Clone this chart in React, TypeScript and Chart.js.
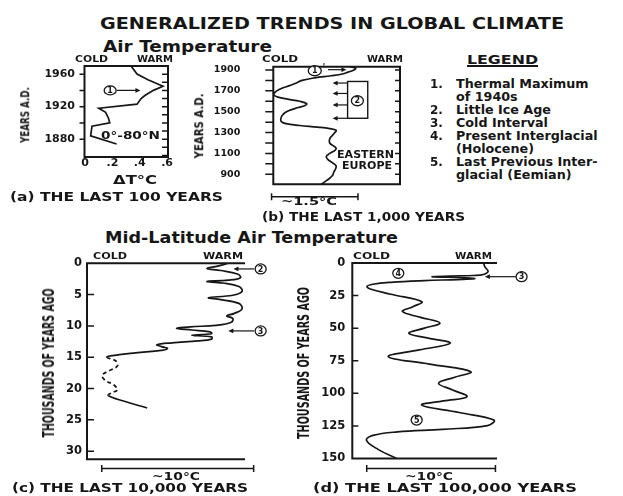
import React, { useEffect, useRef } from 'react';
import { Chart, registerables } from 'chart.js';

Chart.register(...registerables);

const FONT = '"DejaVu Sans", "Liberation Sans", sans-serif';
const INK = '#161616';

// ---------- (a) the last 100 years ----------
const yearsA = [1969, 1960, 1953, 1945, 1940, 1934, 1930, 1923, 1918, 1913, 1906, 1900, 1896, 1884, 1874];
const dTempA = [0.34, 0.38, 0.46, 0.57, 0.50, 0.44, 0.41, 0.38, 0.10, 0.15, 0.17, 0.18, 0.05, 0.04, 0.23];
const yLabelsA = [1880, 1920, 1960];
const xTickValuesA = [0, 0.2, 0.4, 0.6];
const xTickTextA = ['0', '.2', '.4', '.6'];
const leftTicksA = [1880, 1900, 1920, 1940, 1960];
const rightTicksA = [1860, 1870, 1880, 1890, 1900, 1910, 1920, 1930, 1940, 1950, 1960];

// ---------- (b) the last 1,000 years ----------
const yearsB = [1932, 1918, 1900, 1880, 1862, 1845, 1825, 1800, 1775, 1750, 1725, 1700, 1680, 1660, 1640,
  1620, 1600, 1578, 1560, 1540, 1515, 1490, 1460, 1430, 1405, 1385, 1368, 1352, 1338, 1322,
  1300, 1270, 1240, 1200, 1170, 1150, 1130, 1100, 1070, 1040, 1010, 980, 950, 920, 890, 862, 835, 814, 804];
const tempB = [1.33, 1.43, 1.40, 1.30, 1.20, 1.00, 0.72, 0.50, 0.40, 0.28, 0.15, 0.06, 0.02, 0.01, 0.08,
  0.25, 0.46, 0.58, 0.55, 0.43, 0.29, 0.20, 0.15, 0.13, 0.14, 0.22, 0.46, 0.77, 0.98, 1.09,
  1.07, 1.02, 0.98, 0.98, 1.05, 1.09, 1.07, 0.98, 0.92, 0.95, 1.03, 1.09, 1.08, 1.05, 1.03, 0.98, 0.91, 0.86, 0.83];
const yLabelsB = [900, 1100, 1300, 1500, 1700, 1900];
const ticksB = [900, 1000, 1100, 1200, 1300, 1400, 1500, 1600, 1700, 1800, 1900];
const littleIceAgeArrowsB = [1775, 1675, 1565, 1437];

// ---------- (c) mid-latitude, 0-31 ka ----------
const kaC = [0, 0.45, 0.85, 1.15, 1.7, 2.3, 2.7, 2.9, 3.15, 3.7, 4.5, 5.1, 5.5, 5.8, 6.4, 7.3, 8.0, 8.4, 8.8, 9.4,
  9.9, 10.15, 10.4, 10.65, 10.95, 11.25, 11.5, 11.75, 12.1, 12.4, 12.7, 13.0, 13.3, 13.6, 13.9, 14.3, 14.7,
  15.0, 15.6, 16.4, 17.1, 17.9, 18.7, 19.4, 20.2, 20.7, 21.1, 22.0, 23.1];
const tempC = [9.3, 8.6, 7.9, 8.8, 9.9, 10.1, 9.3, 7.9, 8.9, 10.0, 10.2, 9.6, 8.0, 8.8, 10.0, 10.2, 9.7, 9.2, 9.6, 9.5,
  8.5, 6.8, 5.9, 6.9, 8.1, 8.2, 6.9, 8.2, 8.2, 7.3, 5.6, 4.6, 4.9, 5.3, 4.9, 3.2, 1.8,
  1.3, 1.9, 2.0, 1.5, 1.0, 1.2, 1.75, 2.0, 1.6, 1.4, 2.4, 3.96];
const dashFromC = 15.0;
const dashToC = 21.1;
const yLabelsC = [0, 5, 10, 15, 20, 25, 30];
const ticksC = [5, 10, 15, 20, 25, 30];

// ---------- (d) mid-latitude, 0-150 ka ----------
const kaD = [0, 3, 6.5, 8.8, 9.6, 10.05, 10.5, 10.95, 11.5, 12.1, 12.7, 13.5, 14.8, 16.3, 18.0, 20.0, 24.0, 29.7,
  33.5, 37.3, 41.7, 46.0, 50.0, 54.0, 57.8, 61.6, 66.7, 71.9, 77.6, 83.4, 87.8, 92.3, 97.4, 102.6, 105.8,
  109.0, 114.7, 120.5, 124.8, 127.6, 129.6, 132.3, 136.0, 143.0, 150.0];
const tempD = [10.2, 10.3, 10.55, 10.2, 9.4, 7.6, 6.2, 7.4, 9.2, 9.5, 8.2, 5.6, 3.0, 1.6, 1.15, 1.4, 3.0, 5.4,
  4.7, 3.9, 5.3, 6.8, 5.6, 4.4, 6.0, 7.6, 5.2, 2.8, 6.0, 9.2, 7.9, 6.7, 7.8, 8.9, 7.1,
  5.4, 8.3, 11.0, 10.5, 7.0, 3.5, 1.6, 1.1, 2.0, 3.44];
const yLabelsD = [0, 25, 50, 75, 100, 125, 150];
const ticksD = [25, 50, 75, 100, 125];

const toPoints = (xs: number[], ys: number[]) => xs.map((x, i) => ({ x, y: ys[i] }));

// ---------- drawing plugin for frames, tick marks, arrows and circled numbers ----------
const decorPlugin: any = {
  id: 'decor',
  afterDatasetsDraw(chart: any, _args: any, o: any) {
    if (!o) return;
    const { ctx, chartArea: a } = chart;
    const X = (v: number) => chart.scales.x.getPixelForValue(v);
    const Y = (v: number) => chart.scales.y.getPixelForValue(v);
    ctx.save();
    ctx.strokeStyle = INK;
    ctx.fillStyle = INK;
    ctx.lineWidth = 2;
    ctx.beginPath();
    if (o.frame === 'box') {
      ctx.rect(a.left, a.top, a.right - a.left, a.bottom - a.top);
    } else if (o.frame === 'open') {
      ctx.moveTo(a.right, a.top);
      ctx.lineTo(a.left, a.top);
      ctx.lineTo(a.left, a.bottom);
      ctx.lineTo(a.right, a.bottom);
    }
    ctx.stroke();
    ctx.lineWidth = 1.5;
    for (const t of o.ticks || []) {
      const x0 = t.side === 'left' ? a.left : a.right;
      const sgn = (t.side === 'left' ? 1 : -1) * (t.dir === 'in' ? 1 : -1);
      ctx.beginPath();
      for (const v of t.values) {
        const y = Y(v);
        ctx.moveTo(x0, y);
        ctx.lineTo(x0 + sgn * t.len, y);
      }
      ctx.stroke();
    }
    ctx.lineWidth = 1.4;
    for (const r of o.rects || []) {
      const x1 = X(r.x1), x2 = X(r.x2), y1 = Y(r.y1), y2 = Y(r.y2);
      ctx.strokeRect(Math.min(x1, x2), Math.min(y1, y2), Math.abs(x2 - x1), Math.abs(y2 - y1));
    }
    for (const ar of o.arrows || []) {
      const x1 = X(ar.x1), y1 = Y(ar.y1), x2 = X(ar.x2), y2 = Y(ar.y2);
      const ang = Math.atan2(y2 - y1, x2 - x1);
      const L = 5, H = 2.4;
      ctx.lineWidth = 1.2;
      ctx.beginPath();
      ctx.moveTo(x1, y1);
      ctx.lineTo(x2 - Math.cos(ang) * L * 0.6, y2 - Math.sin(ang) * L * 0.6);
      ctx.stroke();
      ctx.beginPath();
      ctx.moveTo(x2, y2);
      ctx.lineTo(x2 - Math.cos(ang) * L - Math.sin(ang) * H, y2 - Math.sin(ang) * L + Math.cos(ang) * H);
      ctx.lineTo(x2 - Math.cos(ang) * L + Math.sin(ang) * H, y2 - Math.sin(ang) * L - Math.cos(ang) * H);
      ctx.closePath();
      ctx.fill();
    }
    for (const c of o.circles || []) {
      const cx = X(c.x), cy = Y(c.y);
      ctx.beginPath();
      ctx.ellipse(cx, cy, c.rx || 5.5, c.ry || 5, 0, 0, Math.PI * 2);
      ctx.fillStyle = '#fff';
      ctx.fill();
      ctx.lineWidth = 1.3;
      ctx.stroke();
      ctx.fillStyle = INK;
      ctx.font = `bold 8px ${FONT}`;
      ctx.textAlign = 'center';
      ctx.textBaseline = 'middle';
      ctx.fillText(c.label, cx, cy + 0.5);
      if (c.prime) {
        ctx.font = `bold 9px ${FONT}`;
        ctx.fillText("'", cx + (c.rx || 5.5) + 2.5, cy - 3);
      }
    }
    if (o.bar) {
      const y = a.bottom + o.bar.dy;
      const x1 = X(o.bar.x1), x2 = X(o.bar.x2);
      ctx.lineWidth = 1.5;
      ctx.beginPath();
      ctx.moveTo(x1, y);
      ctx.lineTo(x2, y);
      ctx.moveTo(x1, y - 3.5);
      ctx.lineTo(x1, y + 3.5);
      ctx.moveTo(x2, y - 3.5);
      ctx.lineTo(x2, y + 3.5);
      ctx.stroke();
    }
    ctx.restore();
  },
};

type Rect = { left: number; top: number; width: number; height: number };
type Area = { left: number; top: number; right: number; bottom: number };

interface PanelDef {
  canvas: Rect;
  area: Area;
  x: { min: number; max: number };
  y: { min: number; max: number; reverse: boolean };
  yLabels: number[];
  yFont: number;
  yPad: number;
  xAxisH: number;
  xTicks?: number[];
  xTickText?: string[];
  points: { x: number; y: number }[];
  tension: number;
  segment?: any;
  decor: any;
}

const PANELS: PanelDef[] = [
  {
    canvas: { left: 0, top: 56, width: 200, height: 120 },
    area: { left: 84.5, top: 66, right: 168, bottom: 157 },
    x: { min: -0.005, max: 0.607 },
    y: { min: 1858, max: 1970, reverse: false },
    yLabels: yLabelsA,
    yFont: 11,
    yPad: 9.5,
    xAxisH: 13,
    xTicks: xTickValuesA,
    xTickText: xTickTextA,
    points: toPoints(dTempA, yearsA),
    tension: 0,
    decor: {
      frame: 'box',
      ticks: [
        { side: 'left', dir: 'out', len: 5, values: leftTicksA },
        { side: 'right', dir: 'in', len: 6, values: rightTicksA },
      ],
      circles: [{ x: 0.183, y: 1940, label: '1', rx: 6, ry: 4.5 }],
      arrows: [{ x1: 0.232, y1: 1940, x2: 0.405, y2: 1940 }],
    },
  },
  {
    canvas: { left: 190, top: 56, width: 240, height: 150 },
    area: { left: 273.3, top: 66.7, right: 400, bottom: 184.3 },
    x: { min: 0, max: 2.2 },
    y: { min: 804, max: 1931.6, reverse: false },
    yLabels: yLabelsB,
    yFont: 9.5,
    yPad: 33,
    xAxisH: 0,
    points: toPoints(tempB, yearsB),
    tension: 0.4,
    decor: {
      frame: 'box',
      ticks: [
        { side: 'left', dir: 'out', len: 8, values: ticksB },
        { side: 'right', dir: 'in', len: 5, values: ticksB },
      ],
      rects: [{ x1: 1.29, y1: 1790, x2: 1.64, y2: 1437 }],
      arrows: [
        { x1: 0.95, y1: 1903, x2: 1.27, y2: 1903 },
        ...littleIceAgeArrowsB.map((yr) => ({ x1: 1.29, y1: yr, x2: 1.03, y2: yr })),
      ],
      circles: [
        { x: 0.72, y: 1893, label: '1', rx: 6.5, ry: 5, prime: true },
        { x: 1.46, y: 1605, label: '2', rx: 6, ry: 5 },
      ],
      bar: { x1: -0.03, x2: 1.47, dy: 12.4 },
    },
  },
  {
    canvas: { left: 50, top: 250, width: 230, height: 235 },
    area: { left: 87, top: 263.3, right: 245, bottom: 459.3 },
    x: { min: 0, max: 10.4 },
    y: { min: 0, max: 31.3, reverse: true },
    yLabels: yLabelsC,
    yFont: 11.5,
    yPad: 5,
    xAxisH: 0,
    points: toPoints(tempC, kaC),
    tension: 0.4,
    segment: {
      borderDash: (ctx: any) =>
        ctx.p0.parsed.y >= dashFromC - 1e-6 && ctx.p1.parsed.y <= dashToC + 1e-6 ? [4, 3] : undefined,
    },
    decor: {
      frame: 'open',
      ticks: [{ side: 'left', dir: 'in', len: 7, values: ticksC }],
      arrows: [
        { x1: 11.0, y1: 0.9, x2: 9.64, y2: 0.9 },
        { x1: 11.0, y1: 10.8, x2: 9.3, y2: 10.8 },
      ],
      circles: [
        { x: 11.43, y: 0.9, label: '2' },
        { x: 11.43, y: 10.8, label: '3' },
      ],
      bar: { x1: 0.97, x2: 10.97, dy: 9.2 },
    },
  },
  {
    canvas: { left: 310, top: 250, width: 313, height: 235 },
    area: { left: 352.3, top: 263, right: 497, bottom: 458.5 },
    x: { min: 0, max: 11.24 },
    y: { min: 0, max: 150, reverse: true },
    yLabels: yLabelsD,
    yFont: 11.5,
    yPad: 7,
    xAxisH: 0,
    points: toPoints(tempD, kaD),
    tension: 0.4,
    decor: {
      frame: 'open',
      ticks: [{ side: 'left', dir: 'in', len: 6, values: ticksD }],
      arrows: [{ x1: 12.7, y1: 10.5, x2: 10.3, y2: 10.5 }],
      circles: [
        { x: 13.15, y: 10.5, label: '3' },
        { x: 3.57, y: 7.9, label: '4' },
        { x: 5.0, y: 120.5, label: '5' },
      ],
      bar: { x1: 1.12, x2: 11.12, dy: 10 },
    },
  },
];

function buildConfig(p: PanelDef): any {
  const c = p.canvas;
  const a = p.area;
  const hasX = !!p.xTicks;
  return {
    type: 'line',
    data: {
      datasets: [
        {
          data: p.points,
          borderColor: INK,
          borderWidth: 1.7,
          pointRadius: 0,
          tension: p.tension,
          fill: false,
          segment: p.segment,
        },
      ],
    },
    options: {
      responsive: false,
      animation: false,
      devicePixelRatio: 1,
      events: [],
      layout: {
        padding: {
          left: 0,
          top: a.top - c.top,
          right: c.left + c.width - a.right,
          bottom: c.top + c.height - a.bottom - p.xAxisH,
        },
      },
      plugins: { legend: { display: false }, tooltip: { enabled: false }, decor: p.decor },
      scales: {
        x: {
          type: 'linear',
          position: 'bottom',
          min: p.x.min,
          max: p.x.max,
          display: hasX,
          grid: { display: false, drawTicks: false },
          border: { display: false },
          ticks: {
            padding: 0,
            color: INK,
            font: { family: FONT, size: 11, weight: 'bold' },
            autoSkip: false,
            maxRotation: 0,
            callback: (_v: any, i: number) => (p.xTickText ? p.xTickText[i] : ''),
          },
          afterBuildTicks: (s: any) => {
            if (p.xTicks) s.ticks = p.xTicks.map((v) => ({ value: v }));
          },
          afterFit: (s: any) => {
            s.height = p.xAxisH;
            s.paddingLeft = 0;
            s.paddingRight = 0;
          },
        },
        y: {
          type: 'linear',
          position: 'left',
          min: p.y.min,
          max: p.y.max,
          reverse: p.y.reverse,
          grid: { display: false, drawTicks: false },
          border: { display: false },
          ticks: {
            padding: p.yPad,
            color: INK,
            autoSkip: false,
            font: { family: FONT, size: p.yFont, weight: 'bold' },
            callback: (v: any) => String(v),
          },
          afterBuildTicks: (s: any) => {
            s.ticks = p.yLabels.map((v) => ({ value: v }));
          },
          afterFit: (s: any) => {
            s.width = a.left - c.left;
            s.paddingTop = 0;
            s.paddingBottom = 0;
          },
        },
      },
    },
    plugins: [decorPlugin],
  };
}

// ---------- text ----------
let measureCtx: CanvasRenderingContext2D | null = null;
function textWidth(t: string, size: number): number {
  if (!measureCtx) measureCtx = document.createElement('canvas').getContext('2d');
  if (!measureCtx) return t.length * size * 0.65;
  measureCtx.font = `bold ${size}px ${FONT}`;
  return measureCtx.measureText(t).width;
}

type TextDef = { t: string; x: number; y: number; s: number; w?: number; sx?: number };
type VTextDef = { t: string; cx: number; cy: number; s: number; w: number };

const LEGEND_SX = 1.06;

const TEXTS: TextDef[] = [
  { t: 'GENERALIZED TRENDS IN GLOBAL CLIMATE', x: 100, y: 24, s: 16, w: 464 },
  { t: 'Air Temperature', x: 103, y: 47, s: 15, w: 169 },
  { t: 'Mid-Latitude Air Temperature', x: 105, y: 238, s: 15, w: 293 },
  { t: 'LEGEND', x: 467, y: 60, s: 12, w: 71 },
  { t: '1.', x: 430, y: 84.3, s: 12 },
  { t: 'Thermal Maximum', x: 456, y: 84.3, s: 12, sx: LEGEND_SX },
  { t: 'of 1940s', x: 456, y: 97, s: 12, sx: LEGEND_SX },
  { t: '2.', x: 430, y: 110, s: 12 },
  { t: 'Little Ice Age', x: 456, y: 110, s: 12, sx: LEGEND_SX },
  { t: '3.', x: 430, y: 123.3, s: 12 },
  { t: 'Cold Interval', x: 456, y: 123.3, s: 12, sx: LEGEND_SX },
  { t: '4.', x: 430, y: 136.6, s: 12 },
  { t: 'Present Interglacial', x: 456, y: 136.6, s: 12, sx: LEGEND_SX },
  { t: '(Holocene)', x: 456, y: 149.5, s: 12, sx: LEGEND_SX },
  { t: '5.', x: 430, y: 162.3, s: 12 },
  { t: 'Last Previous Inter-', x: 456, y: 162.3, s: 12, sx: LEGEND_SX },
  { t: 'glacial (Eemian)', x: 456, y: 175, s: 12, sx: LEGEND_SX },
  { t: 'COLD', x: 75, y: 59, s: 9, w: 33 },
  { t: 'WARM', x: 137, y: 59, s: 9, w: 36 },
  { t: 'COLD', x: 262, y: 59, s: 9, w: 36 },
  { t: 'WARM', x: 367, y: 59, s: 9, w: 36 },
  { t: 'COLD', x: 93, y: 256.5, s: 9, w: 34 },
  { t: 'WARM', x: 203, y: 256.5, s: 9, w: 40 },
  { t: 'COLD', x: 353, y: 256.5, s: 9, w: 37 },
  { t: 'WARM', x: 455, y: 256.5, s: 9, w: 37 },
  { t: '0°-80°N', x: 101, y: 136, s: 10, w: 59 },
  { t: 'EASTERN', x: 337, y: 154.5, s: 10, w: 57 },
  { t: 'EUROPE', x: 342, y: 165.5, s: 10, w: 50 },
  { t: 'ΔT°C', x: 113, y: 180, s: 12, w: 44 },
  { t: '(a) THE LAST 100 YEARS', x: 10, y: 197, s: 12, w: 213 },
  { t: '~1.5°C', x: 281, y: 202, s: 11, w: 56 },
  { t: '(b) THE LAST 1,000 YEARS', x: 262, y: 217, s: 12, w: 203 },
  { t: '~10°C', x: 152, y: 477, s: 11, w: 48 },
  { t: '(c) THE LAST 10,000 YEARS', x: 12, y: 488, s: 13, w: 236 },
  { t: '~10°C', x: 405, y: 477, s: 11, w: 48 },
  { t: '(d) THE LAST 100,000 YEARS', x: 313, y: 488, s: 13, w: 264 },
];

const VTEXTS: VTextDef[] = [
  { t: 'YEARS A.D.', cx: 25, cy: 115, s: 13, w: 56 },
  { t: 'YEARS A.D.', cx: 199, cy: 126, s: 13, w: 65 },
  { t: 'THOUSANDS OF YEARS AGO', cx: 48.5, cy: 362.5, s: 15, w: 149 },
  { t: 'THOUSANDS OF YEARS AGO', cx: 303.5, cy: 363, s: 15, w: 152 },
];

function Label({ d }: { d: TextDef }) {
  const sc = d.w ? d.w / textWidth(d.t, d.s) : d.sx || 1;
  return (
    <div
      style={{
        position: 'absolute',
        left: d.x,
        top: d.y - d.s * 0.6,
        fontSize: d.s,
        lineHeight: `${d.s * 1.2}px`,
        fontWeight: 700,
        whiteSpace: 'nowrap',
        transform: `scaleX(${sc})`,
        transformOrigin: '0 50%',
      }}
    >
      {d.t}
    </div>
  );
}

function VLabel({ d }: { d: VTextDef }) {
  const sc = d.w / textWidth(d.t, d.s);
  return (
    <div
      style={{
        position: 'absolute',
        left: d.cx,
        top: d.cy,
        fontSize: d.s,
        lineHeight: `${d.s * 1.2}px`,
        fontWeight: 700,
        whiteSpace: 'nowrap',
        transform: `translate(-50%, -50%) rotate(-90deg) scaleX(${sc})`,
        transformOrigin: '50% 50%',
      }}
    >
      {d.t}
    </div>
  );
}

export default function App() {
  const refs = useRef<(HTMLCanvasElement | null)[]>([]);
  useEffect(() => {
    const charts = PANELS.map((p, i) => new Chart(refs.current[i] as HTMLCanvasElement, buildConfig(p)));
    return () => charts.forEach((ch) => ch.destroy());
  }, []);
  return (
    <div
      style={{
        position: 'absolute',
        left: 0,
        top: 0,
        width: 623,
        height: 496,
        overflow: 'hidden',
        background: '#fff',
        fontFamily: FONT,
        color: INK,
      }}
    >
      {PANELS.map((p, i) => (
        <canvas
          key={i}
          ref={(el) => {
            refs.current[i] = el;
          }}
          width={p.canvas.width}
          height={p.canvas.height}
          style={{ position: 'absolute', left: p.canvas.left, top: p.canvas.top }}
        />
      ))}
      {TEXTS.map((d, i) => (
        <Label key={i} d={d} />
      ))}
      {VTEXTS.map((d, i) => (
        <VLabel key={i} d={d} />
      ))}
      <div style={{ position: 'absolute', left: 467, top: 65, width: 71, height: 1.5, background: INK }} />
    </div>
  );
}
